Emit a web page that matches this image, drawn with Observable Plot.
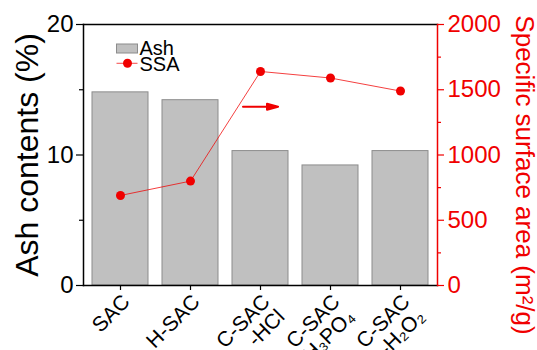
<!DOCTYPE html>
<html>
<head>
<meta charset="utf-8">
<script src="https://cdn.jsdelivr.net/npm/d3@7"></script>
<script src="https://cdn.jsdelivr.net/npm/@observablehq/plot@0.6"></script>
<style>
  body { margin: 0; background: #fff; }
  #chart svg { font-family: "Liberation Sans", Arial, sans-serif; }
</style>
</head>
<body>
<div id="chart"></div>
<script>
// ---- data ----
const categories = ["SAC", "H-SAC", "C-SAC\n-HCl", "C-SAC\n-H₃PO₄", "C-SAC\n-H₂O₂"];
const ashValues = [14.8, 14.2, 10.3, 9.2, 10.3];          // Ash contents (%)
const ssaValues = [690, 800, 1640, 1590, 1490];           // Specific surface area (m2/g)
const ashTicks = [0, 10, 20];
const ashMinorTicks = [5, 15];
const ssaTicks = [0, 500, 1000, 1500, 2000];
const ssaMinorTicks = [250, 750, 1250, 1750];
const ssaPerAsh = 100; // right axis 0–2000 maps onto left axis 0–20
const arrowPoint = [{cat: "C-SAC\n-HCl", ash: 13.7}];

const RED = "#f00000";
const data = categories.map((c, i) => ({cat: c, ash: ashValues[i], ssa: ssaValues[i]}));

const arrowShape = {
  draw(context, l) {
    context.moveTo(0, 0);
    context.lineTo(0, -l + 10);
    context.moveTo(-3, -l + 11);
    context.lineTo(0, -l);
    context.lineTo(3, -l + 11);
    context.closePath();
  }
};

const chart = Plot.plot({
  width: 537,
  height: 350,
  marginLeft: 83,
  marginRight: 100,
  marginTop: 24,
  marginBottom: 65,
  x: {domain: categories, paddingInner: 0.2, paddingOuter: 0.1, label: null},
  y: {domain: [0, 20], label: null},
  marks: [
    Plot.barY(data, {x: "cat", y: "ash", fill: "#c0c0c0", stroke: "#8c8c8c", strokeWidth: 1}),
    // frame
    Plot.frame({anchor: "top", stroke: "#000", strokeWidth: 1.5}),
    Plot.frame({anchor: "bottom", stroke: "#000", strokeWidth: 1.5}),
    Plot.frame({anchor: "left", stroke: "#000", strokeWidth: 1.5}),
    Plot.frame({anchor: "right", stroke: RED, strokeWidth: 1.5}),
    // SSA line
    Plot.line(data, {x: "cat", y: d => d.ssa / ssaPerAsh, stroke: RED, strokeWidth: 1, strokeOpacity: 0.75}),
    Plot.dot(data, {x: "cat", y: d => d.ssa / ssaPerAsh, r: 4.5, fill: RED}),
    // arrow
    Plot.vector(arrowPoint, {x: "cat", y: "ash", rotate: 90, length: 35, anchor: "middle",
      shape: arrowShape, stroke: RED, fill: RED, strokeWidth: 2}),
    // axes
    Plot.axisY({anchor: "left", ticks: ashTicks, tickSize: 7, tickPadding: 3, fontSize: 24, label: null, strokeWidth: 1.2}),
    Plot.axisY({anchor: "left", ticks: ashMinorTicks, tickSize: 4, tickFormat: () => "", label: null, strokeWidth: 1.2}),
    Plot.axisY({anchor: "right", ticks: ssaTicks.map(d => d / ssaPerAsh), tickFormat: d => String(Math.round(d * ssaPerAsh)),
      tickSize: 6, tickPadding: 4, fontSize: 24, color: RED, label: null, strokeWidth: 1.2}),
    Plot.axisY({anchor: "right", ticks: ssaMinorTicks.map(d => d / ssaPerAsh), tickSize: 3, tickFormat: () => "",
      color: RED, label: null, strokeWidth: 1.2}),
    Plot.axisX({tickRotate: -45, tickSize: 5, tickPadding: 2, fontSize: 21, lineAnchor: "top", label: null, strokeWidth: 1.2}),
    // axis titles
    Plot.text(["Ash contents (%)"], {frameAnchor: "left", textAnchor: "middle", rotate: -90, dx: -56, fontSize: 32, fill: "#000"}),
    Plot.text(["Specific surface area (m²/g)"], {frameAnchor: "right", textAnchor: "middle", rotate: 90, dx: 87, dy: 20, fontSize: 26, fill: RED}),
    // legend
    Plot.frame({fill: "#c0c0c0", stroke: "#8c8c8c", insetLeft: 33, insetRight: 300, insetTop: 19.5, insetBottom: 232.5}),
    Plot.frame({fill: RED, fillOpacity: 0.8, insetLeft: 33, insetRight: 300, insetTop: 38.3, insetBottom: 221.8}),
    Plot.dot([0], {frameAnchor: "top-left", dx: 44, dy: 38.8, r: 4.5, fill: RED}),
    Plot.text(["Ash"], {frameAnchor: "top-left", dx: 56, dy: 30, textAnchor: "start", lineAnchor: "bottom", fontSize: 20, fill: "#000"}),
    Plot.text(["SSA"], {frameAnchor: "top-left", dx: 56, dy: 46, textAnchor: "start", lineAnchor: "bottom", fontSize: 20, fill: "#000"})
  ]
});
document.getElementById("chart").appendChild(chart);
</script>
</body>
</html>
